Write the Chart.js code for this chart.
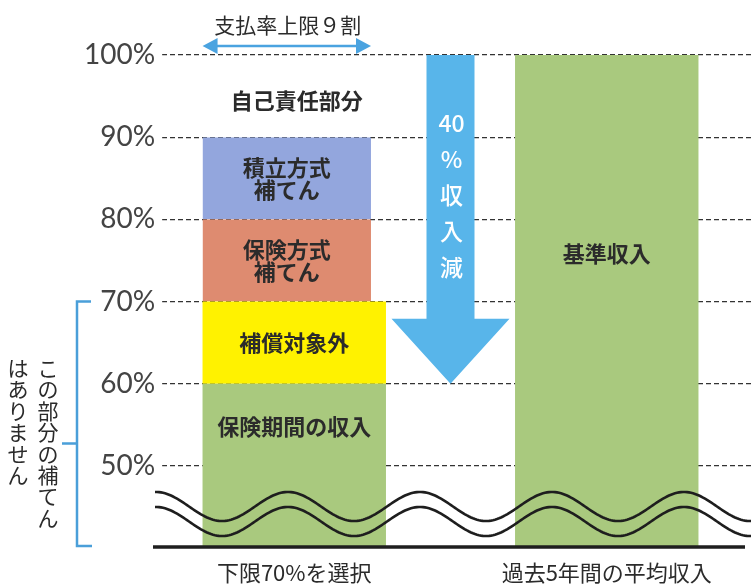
<!DOCTYPE html>
<html>
<head>
<meta charset="utf-8">
<script src="https://cdn.jsdelivr.net/npm/chart.js@4"></script>
<style>
html, body { margin: 0; padding: 0; overflow: hidden; background: #fff; }
</style>
</head>
<body>
<canvas id="myChart" width="763" height="585"></canvas>
<script>
// データ
const categories = ["下限70%を選択", "過去5年間の平均収入"];
const incomeInPeriod = [60, 100];  // 保険期間の収入 / 基準収入
const notCovered = [10, 0];         // 補償対象外
const insuranceComp = [10, 0];      // 保険方式 補てん
const reserveComp = [10, 0];        // 積立方式 補てん
const yTicks = [50, 60, 70, 80, 90, 100];
const dropText = ["40", "%", "収", "入", "減"];
const noteLines = ["この部分の補てん", "はありません"];

const JP = "'Noto Sans CJK JP', sans-serif";
const cut = 15; // 上の2段は右側を少し細く

const overlay = {
    id: 'overlay',
    afterDatasetsDraw(chart) {
        const {ctx, chartArea, scales: {y}} = chart;
        const green = chart.getDatasetMeta(0).data;
        const left = green[0], right = green[1];
        const narrowX = left.x - cut / 2;
        const narrowL = left.x - left.width / 2;
        const narrowR = left.x + left.width / 2 - cut;

        ctx.save();
        // 波線
        const start = chartArea.left + 17;
        const crest = chartArea.left + 150;
        ctx.strokeStyle = '#1e1e1e';
        ctx.lineWidth = 2.6;
        [0, 15].forEach(off => {
            ctx.beginPath();
            for (let px = start; px <= chart.width; px += 2) {
                const py = chartArea.bottom - 41.5 + off - 14.5 * Math.cos(2 * Math.PI * (px - crest) / 132);
                if (px === start) ctx.moveTo(px, py); else ctx.lineTo(px, py);
            }
            ctx.stroke();
        });
        // 底線
        ctx.lineWidth = 3.5;
        ctx.beginPath();
        ctx.moveTo(chartArea.left + 15, chartArea.bottom - 1);
        ctx.lineTo(745, chartArea.bottom - 1);
        ctx.stroke();

        // 40%収入減の矢印
        const ax = (left.x + right.x) / 2;
        const aTop = y.getPixelForValue(incomeInPeriod[1]);
        const aTip = y.getPixelForValue(incomeInPeriod[0]);
        const headTop = aTip - 65;
        ctx.fillStyle = '#58b5ea';
        ctx.beginPath();
        ctx.moveTo(ax - 24, aTop);
        ctx.lineTo(ax + 24, aTop);
        ctx.lineTo(ax + 24, headTop);
        ctx.lineTo(ax + 59, headTop);
        ctx.lineTo(ax, aTip);
        ctx.lineTo(ax - 59, headTop);
        ctx.lineTo(ax - 24, headTop);
        ctx.closePath();
        ctx.fill();
        ctx.fillStyle = '#fff';
        ctx.textAlign = 'center';
        ctx.textBaseline = 'middle';
        ctx.font = '500 23px ' + JP;
        dropText.forEach((t, i) => ctx.fillText(t, ax + 1, aTop + 68 + i * 36));

        // 支払率上限９割
        ctx.strokeStyle = '#4aa3e0';
        ctx.fillStyle = '#4aa3e0';
        ctx.lineWidth = 2.5;
        const ay = 46;
        ctx.beginPath();
        ctx.moveTo(narrowL + 10, ay);
        ctx.lineTo(narrowR - 10, ay);
        ctx.stroke();
        ctx.beginPath();
        ctx.moveTo(narrowL, ay); ctx.lineTo(narrowL + 15, ay - 8); ctx.lineTo(narrowL + 15, ay + 8);
        ctx.closePath(); ctx.fill();
        ctx.beginPath();
        ctx.moveTo(narrowR, ay); ctx.lineTo(narrowR - 15, ay - 8); ctx.lineTo(narrowR - 15, ay + 8);
        ctx.closePath(); ctx.fill();
        ctx.fillStyle = '#2b2b2b';
        ctx.font = '21px ' + JP;
        ctx.fillText('支払率上限９割', narrowX + 1, 25);

        // 棒の中の文字
        ctx.font = 'bold 22px ' + JP;
        ctx.fillStyle = '#2b2b2b';
        ctx.fillText('自己責任部分', narrowX + 10, y.getPixelForValue(94.5));
        ctx.fillText('積立方式', narrowX, y.getPixelForValue(85) - 11);
        ctx.fillText('補てん', narrowX, y.getPixelForValue(85) + 11);
        ctx.fillText('保険方式', narrowX, y.getPixelForValue(75) - 11);
        ctx.fillText('補てん', narrowX, y.getPixelForValue(75) + 11);
        ctx.fillText('補償対象外', left.x, y.getPixelForValue(65));
        ctx.fillText('保険期間の収入', left.x, y.getPixelForValue(54.8));
        ctx.fillText('基準収入', right.x, y.getPixelForValue(75.8));

        // 左の括弧
        const bx = 77;
        const by0 = y.getPixelForValue(70);
        const by1 = chartArea.bottom - 2;
        ctx.strokeStyle = '#4a9fd9';
        ctx.lineWidth = 2.5;
        ctx.beginPath();
        ctx.moveTo(bx + 14, by0); ctx.lineTo(bx, by0); ctx.lineTo(bx, by1); ctx.lineTo(bx + 15, by1);
        ctx.moveTo(bx, by0 + 142); ctx.lineTo(bx - 15, by0 + 142);
        ctx.stroke();

        // 縦書き
        ctx.font = '21px ' + JP;
        ctx.fillStyle = '#2b2b2b';
        noteLines.forEach((line, c) => {
            Array.from(line).forEach((ch, i) => {
                ctx.fillText(ch, 48 - c * 30, 368 + i * 21.4);
            });
        });
        ctx.restore();
    }
};

new Chart("myChart", {
    type: "bar",
    data: {
        labels: categories,
        datasets: [
            { label: '保険期間の収入', data: incomeInPeriod, backgroundColor: '#a9c97e' },
            { label: '補償対象外', data: notCovered, backgroundColor: '#fff200' },
            { label: '保険方式補てん', data: insuranceComp, backgroundColor: '#de8b70',
              borderWidth: {right: cut}, borderColor: 'rgba(0,0,0,0)', borderSkipped: false },
            { label: '積立方式補てん', data: reserveComp, backgroundColor: '#93a6dd',
              borderWidth: {right: cut}, borderColor: 'rgba(0,0,0,0)', borderSkipped: false }
        ]
    },
    options: {
        responsive: false,
        animation: false,
        layout: { padding: { top: 55, bottom: 0, left: 0, right: 0 } },
        datasets: { bar: { categoryPercentage: 1, barPercentage: 0.587 } },
        plugins: { legend: { display: false }, tooltip: { enabled: false } },
        scales: {
            x: {
                stacked: true,
                afterFit: s => { s.height = 37; },
                grid: { display: false },
                border: { display: false },
                ticks: { color: '#2b2b2b', font: { family: JP, size: 22 }, padding: 3 }
            },
            y: {
                stacked: true,
                min: 40,
                max: 100,
                afterBuildTicks: s => { s.ticks = yTicks.map(v => ({ value: v })); },
                afterFit: s => { s.width = 138; },
                border: { display: false, dash: [5, 3] },
                grid: { color: '#333', lineWidth: 1.2, drawTicks: false },
                ticks: {
                    color: '#444',
                    font: { family: 'Lato', size: 28 },
                    mirror: true,
                    crossAlign: 'far',
                    padding: -54,
                    callback: v => v + '%',
                    showLabelBackdrop: true,
                    backdropColor: '#fff',
                    backdropPadding: { top: 0, bottom: 0, left: 2, right: 7 }
                }
            }
        }
    },
    plugins: [overlay]
});
</script>
</body>
</html>
